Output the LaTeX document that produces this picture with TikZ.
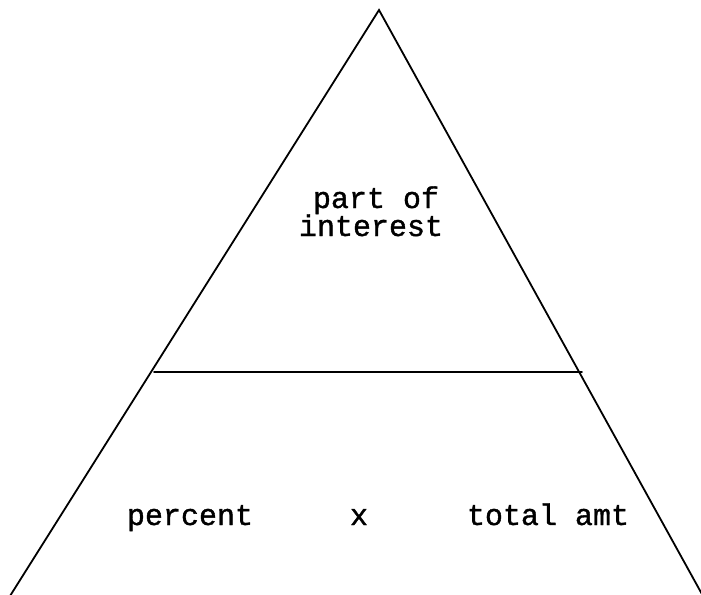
\documentclass[tikz,border=0pt]{standalone}
\usepackage{fontspec}
\newfontfamily\typew[FakeBold=1.2]{Liberation Mono}
\begin{document}
\begin{tikzpicture}[x=1pt,y=-1pt,
  edge/.style={line width=1.8pt, line cap=round},
  lbl/.style={font=\fontsize{30}{31}\selectfont\typew, inner sep=0pt, anchor=base}]
\useasboundingbox (0,0) rectangle (701,594);
\coordinate (apex) at (379,10);
\coordinate (bl) at (10,596);
\coordinate (br) at (703,596);
\coordinate (ml) at (154,372);
\coordinate (mr) at (582,372);
\draw[edge] (bl) -- (apex) -- (br);
\draw[edge] (ml) -- (mr);
\node[lbl] (part) at (376,208) {part of};
\node[lbl] (interest) at (371,236) {interest};
\node[lbl] (pct) at (190,525) {percent};
\node[lbl] (times) at (359,525) {x};
\node[lbl] (total) at (548,525) {total amt};
\end{tikzpicture}
\end{document}
